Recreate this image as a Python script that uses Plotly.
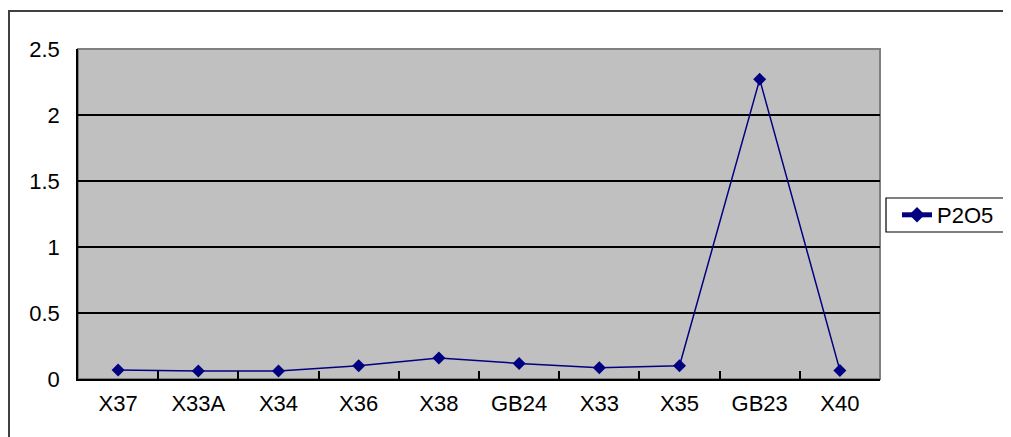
import plotly.graph_objects as go

categories = ["X37", "X33A", "X34", "X36", "X38", "GB24", "X33", "X35", "GB23", "X40"]
p2o5 = [0.068, 0.06, 0.06, 0.10, 0.16, 0.118, 0.085, 0.10, 2.27, 0.065]
series_name = "P2O5"
y_ticks = [0, 0.5, 1, 1.5, 2, 2.5]
y_tick_text = ["0", "0.5", "1", "1.5", "2", "2.5"]

# page has an 8px body margin; figure coords = screen coords - 8
OFF = 8
W, H = 1011 - OFF, 437 - OFF
L, R, T, B = 78 - OFF, 880 - OFF, 49 - OFF, 379 - OFF  # plot area in figure pixels

def px_x(p):
    return (p - L) / (R - L)

def px_y(p):
    return (B - p) / (B - T)

FONT = "Liberation Sans, Arial, sans-serif"
FS = 22

fig = go.Figure()
fig.add_trace(go.Scatter(
    x=categories, y=p2o5, name=series_name, mode="lines+markers",
    line=dict(color="#000080", width=1.5),
    marker=dict(symbol="diamond", size=10, color="#000080"),
    showlegend=True,
))

fig.update_layout(
    width=W, height=H,
    margin=dict(l=L, r=W - R, t=T, b=H - B, pad=0),
    paper_bgcolor="white", plot_bgcolor="#C0C0C0",
    font=dict(family=FONT, size=FS, color="black"),
    showlegend=True,
    legend=dict(
        x=px_x(897 - OFF), y=px_y(215 - OFF), xanchor="left", yanchor="middle",
        borderwidth=0, bgcolor="rgba(0,0,0,0)",
        font=dict(family=FONT, size=FS, color="black"),
        itemsizing="constant", tracegroupgap=0,
    ),
    xaxis=dict(
        type="category", range=[-0.5, len(categories) - 0.5],
        showline=True, linecolor="black", linewidth=1.5,
        ticks="inside", tickson="boundaries", ticklen=8, tickcolor="black", tickwidth=1.5,
        showgrid=False, zeroline=False, ticklabelstandoff=4,
        tickfont=dict(family=FONT, size=FS, color="black"),
    ),
    yaxis=dict(
        range=[0, 2.5], tickvals=y_ticks, ticktext=y_tick_text,
        showline=True, linecolor="black", linewidth=1.5,
        ticks="", showgrid=True, gridcolor="black", gridwidth=1.5,
        zeroline=False, ticklabelstandoff=12,
        tickfont=dict(family=FONT, size=FS, color="black"),
    ),
    shapes=[
        # plot-area border (gray top/right)
        dict(type="rect", xref="paper", yref="paper", x0=0, x1=1, y0=0, y1=1,
             line=dict(color="#808080", width=2), layer="below"),
        # legend box
        dict(type="rect", xref="paper", yref="paper",
             x0=px_x(886 - OFF), x1=px_x(1007 - OFF),
             y0=px_y(232 - OFF), y1=px_y(198 - OFF),
             line=dict(color="black", width=1.2), fillcolor="white", layer="below"),
        # outer chart border
        dict(type="rect", xref="paper", yref="paper",
             x0=px_x(1), x1=px_x(W + 20), y0=px_y(H + 20), y1=px_y(11 - OFF),
             line=dict(color="#404040", width=2), layer="above"),
    ],
)

fig.write_html("out.html")
